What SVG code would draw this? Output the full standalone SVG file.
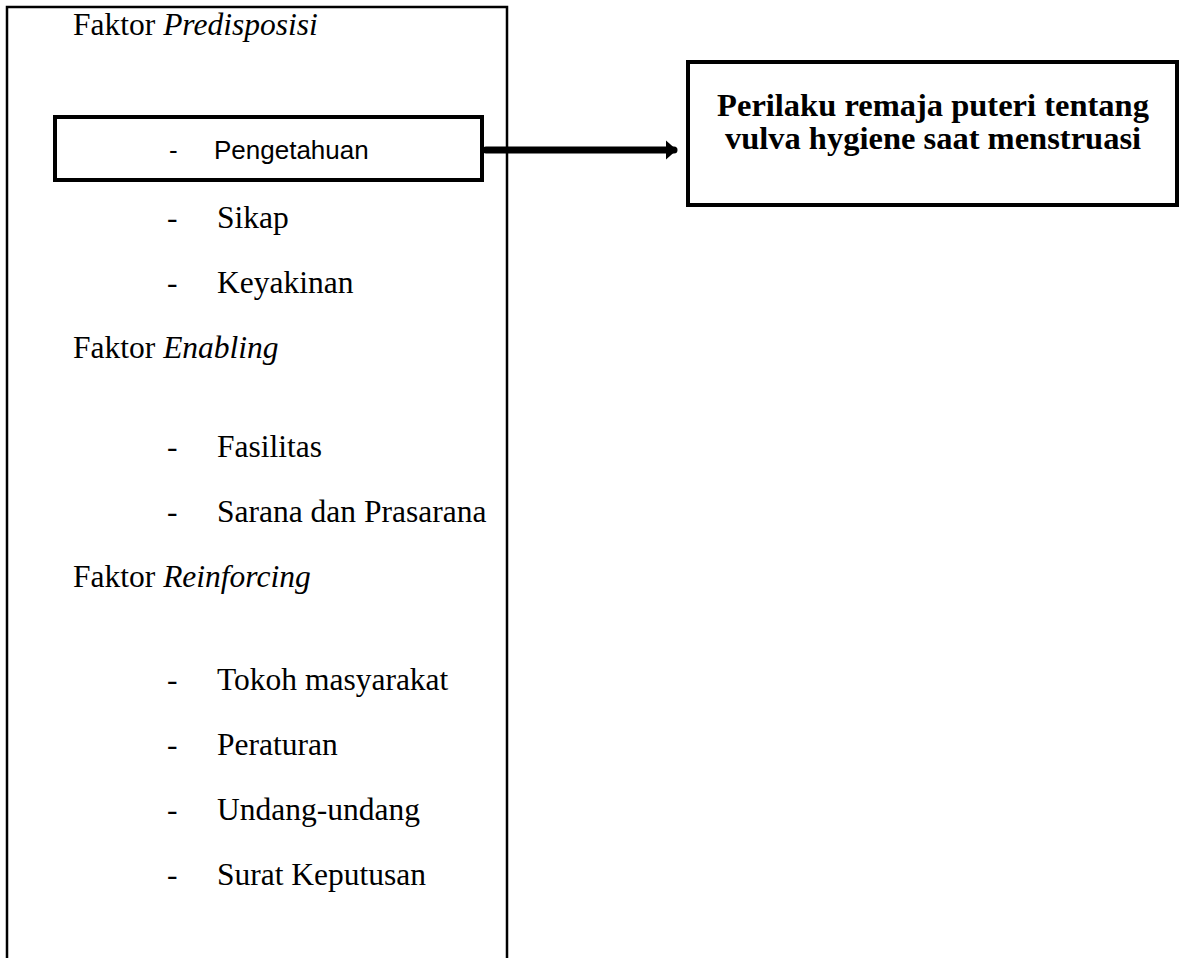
<svg xmlns="http://www.w3.org/2000/svg" width="1181" height="958" viewBox="0 0 1181 958">
<style>
.t{font-family:"Liberation Serif","Times New Roman",serif;font-size:31.5px;fill:#000}
.i{font-style:italic}
.b{font-weight:bold;font-size:32.5px}
.s{font-family:"Liberation Sans",Arial,sans-serif;font-size:26px;fill:#000}
.box{fill:none;stroke:#000}
</style>
<defs>
<marker id="ah" markerWidth="4" markerHeight="4" refX="1.2" refY="2" orient="auto" markerUnits="strokeWidth">
<path d="M0,0.6 L1.6,2 L0,3.4 Z" fill="#000"/>
</marker>
</defs>
<rect width="1181" height="958" fill="#fff"/>
<g id="factors">
<path class="box" d="M7,1000 V7 H507 V1000" stroke-width="2.5"/>
<text class="t" x="73" y="35">Faktor <tspan class="i">Predisposisi</tspan></text>
<g id="pengetahuan">
<rect class="box" x="55" y="117" width="427" height="63" stroke-width="4"/>
<text class="s" x="169" y="159">-</text>
<text class="s" x="214" y="159">Pengetahuan</text>
</g>
<text class="t" x="167" y="228">-</text><text class="t" x="217" y="228">Sikap</text>
<text class="t" x="167" y="293">-</text><text class="t" x="217" y="293">Keyakinan</text>
<text class="t" x="73" y="358">Faktor <tspan class="i">Enabling</tspan></text>
<text class="t" x="167" y="457">-</text><text class="t" x="217" y="457">Fasilitas</text>
<text class="t" x="167" y="522">-</text><text class="t" x="217" y="522">Sarana dan Prasarana</text>
<text class="t" x="73" y="587">Faktor <tspan class="i">Reinforcing</tspan></text>
<text class="t" x="167" y="690">-</text><text class="t" x="217" y="690">Tokoh masyarakat</text>
<text class="t" x="167" y="755">-</text><text class="t" x="217" y="755">Peraturan</text>
<text class="t" x="167" y="820">-</text><text class="t" x="217" y="820">Undang-undang</text>
<text class="t" x="167" y="885">-</text><text class="t" x="217" y="885">Surat Keputusan</text>
</g>
<g id="perilaku">
<rect class="box" x="688" y="62" width="489" height="143" stroke-width="4"/>
<text class="t b" x="933" y="116" text-anchor="middle">Perilaku remaja puteri tentang</text>
<text class="t b" x="933" y="149" text-anchor="middle">vulva hygiene saat menstruasi</text>
</g>
<g id="connectors">
<line x1="486" y1="150" x2="674" y2="150" stroke="#000" stroke-width="7" stroke-linecap="round" marker-end="url(#ah)"/>
</g>
</svg>
